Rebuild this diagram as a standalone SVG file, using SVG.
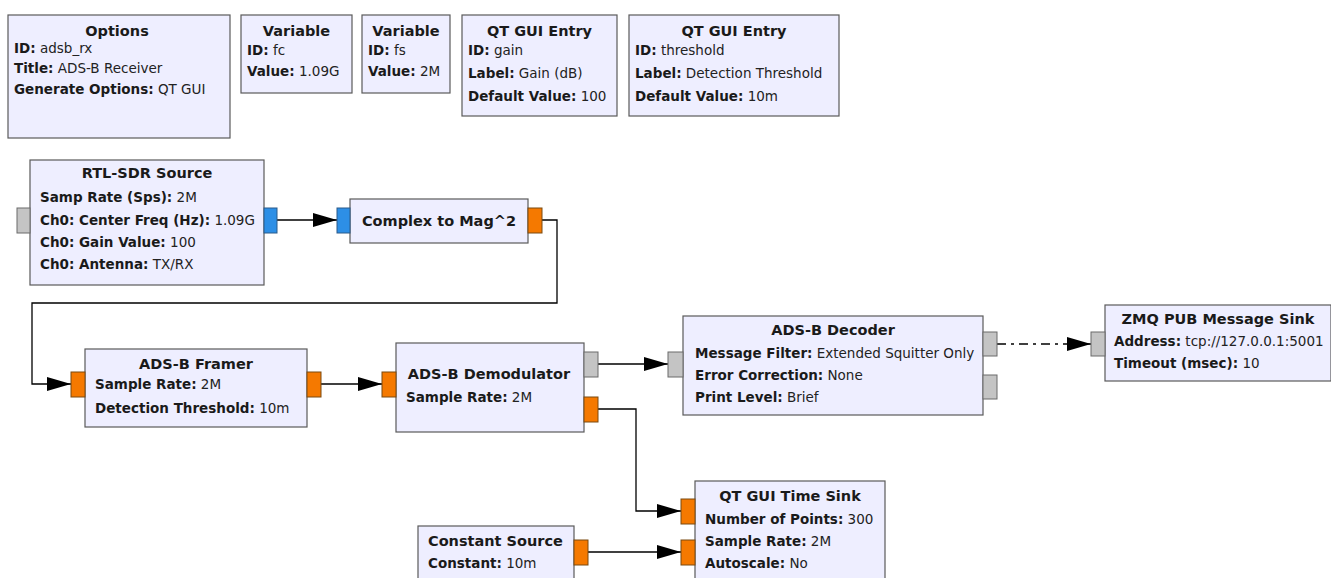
<svg xmlns="http://www.w3.org/2000/svg" width="1331" height="578" viewBox="0 0 1331 578">
<defs>
<style>
.blk{fill:#eeeeff;stroke:#5a5a5a;stroke-width:1.2}
text{font-family:"DejaVu Sans",sans-serif;font-size:13.5px;fill:#222}
.t{font-weight:bold;font-size:14.5px;text-anchor:middle;fill:#1a1a1a}
.k{font-weight:bold;fill:#1a1a1a}
.po{fill:#f57900;stroke:#7a4a10;stroke-width:1}
.pb{fill:#2d8fe6;stroke:#2a5a8a;stroke-width:1}
.pg{fill:#c4c4c4;stroke:#6a6a6a;stroke-width:1}
.w{fill:none;stroke:#000;stroke-width:1.3}
</style>
<marker id="ah" markerWidth="24" markerHeight="14" refX="24" refY="7" orient="auto" markerUnits="userSpaceOnUse">
<path d="M0,0 L24,7 L0,14 Z" fill="#000"/>
</marker>
</defs>
<rect width="1331" height="578" fill="#ffffff"/>

<g id="options">
<rect class="blk" x="8" y="15" width="222" height="123"/>
<text class="t" x="117" y="36">Options</text>
<text x="14" y="53"><tspan class="k">ID:</tspan> adsb_rx</text>
<text x="14" y="73"><tspan class="k">Title:</tspan> ADS-B Receiver</text>
<text x="14" y="94"><tspan class="k">Generate Options:</tspan> QT GUI</text>
</g>

<g id="var_fc">
<rect class="blk" x="241" y="15" width="111" height="78"/>
<text class="t" x="296.5" y="36">Variable</text>
<text x="247" y="55"><tspan class="k">ID:</tspan> fc</text>
<text x="247" y="76"><tspan class="k">Value:</tspan> 1.09G</text>
</g>

<g id="var_fs">
<rect class="blk" x="362" y="15" width="88" height="78"/>
<text class="t" x="406" y="36">Variable</text>
<text x="368" y="55"><tspan class="k">ID:</tspan> fs</text>
<text x="368" y="76"><tspan class="k">Value:</tspan> 2M</text>
</g>

<g id="entry_gain">
<rect class="blk" x="462" y="15" width="155" height="101"/>
<text class="t" x="539.5" y="36">QT GUI Entry</text>
<text x="468" y="55"><tspan class="k">ID:</tspan> gain</text>
<text x="468" y="78"><tspan class="k">Label:</tspan> Gain (dB)</text>
<text x="468" y="101"><tspan class="k">Default Value:</tspan> 100</text>
</g>

<g id="entry_threshold">
<rect class="blk" x="629" y="15" width="210" height="101"/>
<text class="t" x="734" y="36">QT GUI Entry</text>
<text x="635" y="55"><tspan class="k">ID:</tspan> threshold</text>
<text x="635" y="78"><tspan class="k">Label:</tspan> Detection Threshold</text>
<text x="635" y="101"><tspan class="k">Default Value:</tspan> 10m</text>
</g>

<g id="connectors">
<line class="w" x1="277" y1="220" x2="337" y2="220" marker-end="url(#ah)"/>
<polyline class="w" points="542,220 557,220 557,303 32,303 32,384 71,384" marker-end="url(#ah)"/>
<line class="w" x1="321" y1="384" x2="382" y2="384" marker-end="url(#ah)"/>
<line class="w" x1="598" y1="364" x2="668" y2="364" marker-end="url(#ah)"/>
<polyline class="w" points="598,409 636,409 636,511 681,511" marker-end="url(#ah)"/>
<line class="w" x1="588" y1="552" x2="681" y2="552" marker-end="url(#ah)"/>
<line class="w" x1="997" y1="344" x2="1091" y2="344" stroke-dasharray="9,5,3,5" marker-end="url(#ah)"/>
</g>

<g id="rtlsdr">
<rect class="blk" x="30" y="160" width="234" height="125"/>
<rect class="pg" x="17" y="208" width="13" height="25"/>
<rect class="pb" x="264" y="208" width="13" height="25"/>
<text class="t" x="147" y="178">RTL-SDR Source</text>
<text x="40" y="202"><tspan class="k">Samp Rate (Sps):</tspan> 2M</text>
<text x="40" y="225"><tspan class="k">Ch0: Center Freq (Hz):</tspan> 1.09G</text>
<text x="40" y="247"><tspan class="k">Ch0: Gain Value:</tspan> 100</text>
<text x="40" y="269"><tspan class="k">Ch0: Antenna:</tspan> TX/RX</text>
</g>

<g id="c2mag">
<rect class="blk" x="350" y="199" width="178" height="44"/>
<rect class="pb" x="337" y="208" width="13" height="25"/>
<rect class="po" x="528" y="208" width="14" height="25"/>
<text class="t" x="439" y="226">Complex to Mag^2</text>
</g>

<g id="framer">
<rect class="blk" x="85" y="349" width="222" height="78"/>
<rect class="po" x="71" y="372" width="14" height="25"/>
<rect class="po" x="307" y="372" width="14" height="25"/>
<text class="t" x="196" y="369">ADS-B Framer</text>
<text x="95" y="389"><tspan class="k">Sample Rate:</tspan> 2M</text>
<text x="95" y="413"><tspan class="k">Detection Threshold:</tspan> 10m</text>
</g>

<g id="demod">
<rect class="blk" x="396" y="343" width="188" height="89"/>
<rect class="po" x="382" y="372" width="14" height="25"/>
<rect class="pg" x="584" y="352" width="14" height="25"/>
<rect class="po" x="584" y="397" width="14" height="25"/>
<text class="t" x="489" y="379">ADS-B Demodulator</text>
<text x="406" y="402"><tspan class="k">Sample Rate:</tspan> 2M</text>
</g>

<g id="decoder">
<rect class="blk" x="683" y="316" width="300" height="99"/>
<rect class="pg" x="668" y="352" width="15" height="25"/>
<rect class="pg" x="983" y="332" width="14" height="24"/>
<rect class="pg" x="983" y="375" width="14" height="24"/>
<text class="t" x="833" y="335">ADS-B Decoder</text>
<text x="695" y="358"><tspan class="k">Message Filter:</tspan> Extended Squitter Only</text>
<text x="695" y="380"><tspan class="k">Error Correction:</tspan> None</text>
<text x="695" y="402"><tspan class="k">Print Level:</tspan> Brief</text>
</g>

<g id="zmq">
<rect class="blk" x="1105" y="305" width="226" height="76"/>
<rect class="pg" x="1091" y="332" width="14" height="24"/>
<text class="t" x="1218" y="324">ZMQ PUB Message Sink</text>
<text x="1114" y="346"><tspan class="k">Address:</tspan> tcp://127.0.0.1:5001</text>
<text x="1114" y="368"><tspan class="k">Timeout (msec):</tspan> 10</text>
</g>

<g id="timesink">
<rect class="blk" x="695" y="481" width="190" height="100"/>
<rect class="po" x="681" y="499" width="14" height="25"/>
<rect class="po" x="681" y="540" width="14" height="25"/>
<text class="t" x="790" y="501">QT GUI Time Sink</text>
<text x="705" y="524"><tspan class="k">Number of Points:</tspan> 300</text>
<text x="705" y="546"><tspan class="k">Sample Rate:</tspan> 2M</text>
<text x="705" y="568"><tspan class="k">Autoscale:</tspan> No</text>
</g>

<g id="constsrc">
<rect class="blk" x="418" y="526" width="156" height="55"/>
<rect class="po" x="574" y="540" width="14" height="25"/>
<text x="428" y="546"><tspan class="t" style="text-anchor:start">Constant Source</tspan></text>
<text x="428" y="568"><tspan class="k">Constant:</tspan> 10m</text>
</g>
</svg>
